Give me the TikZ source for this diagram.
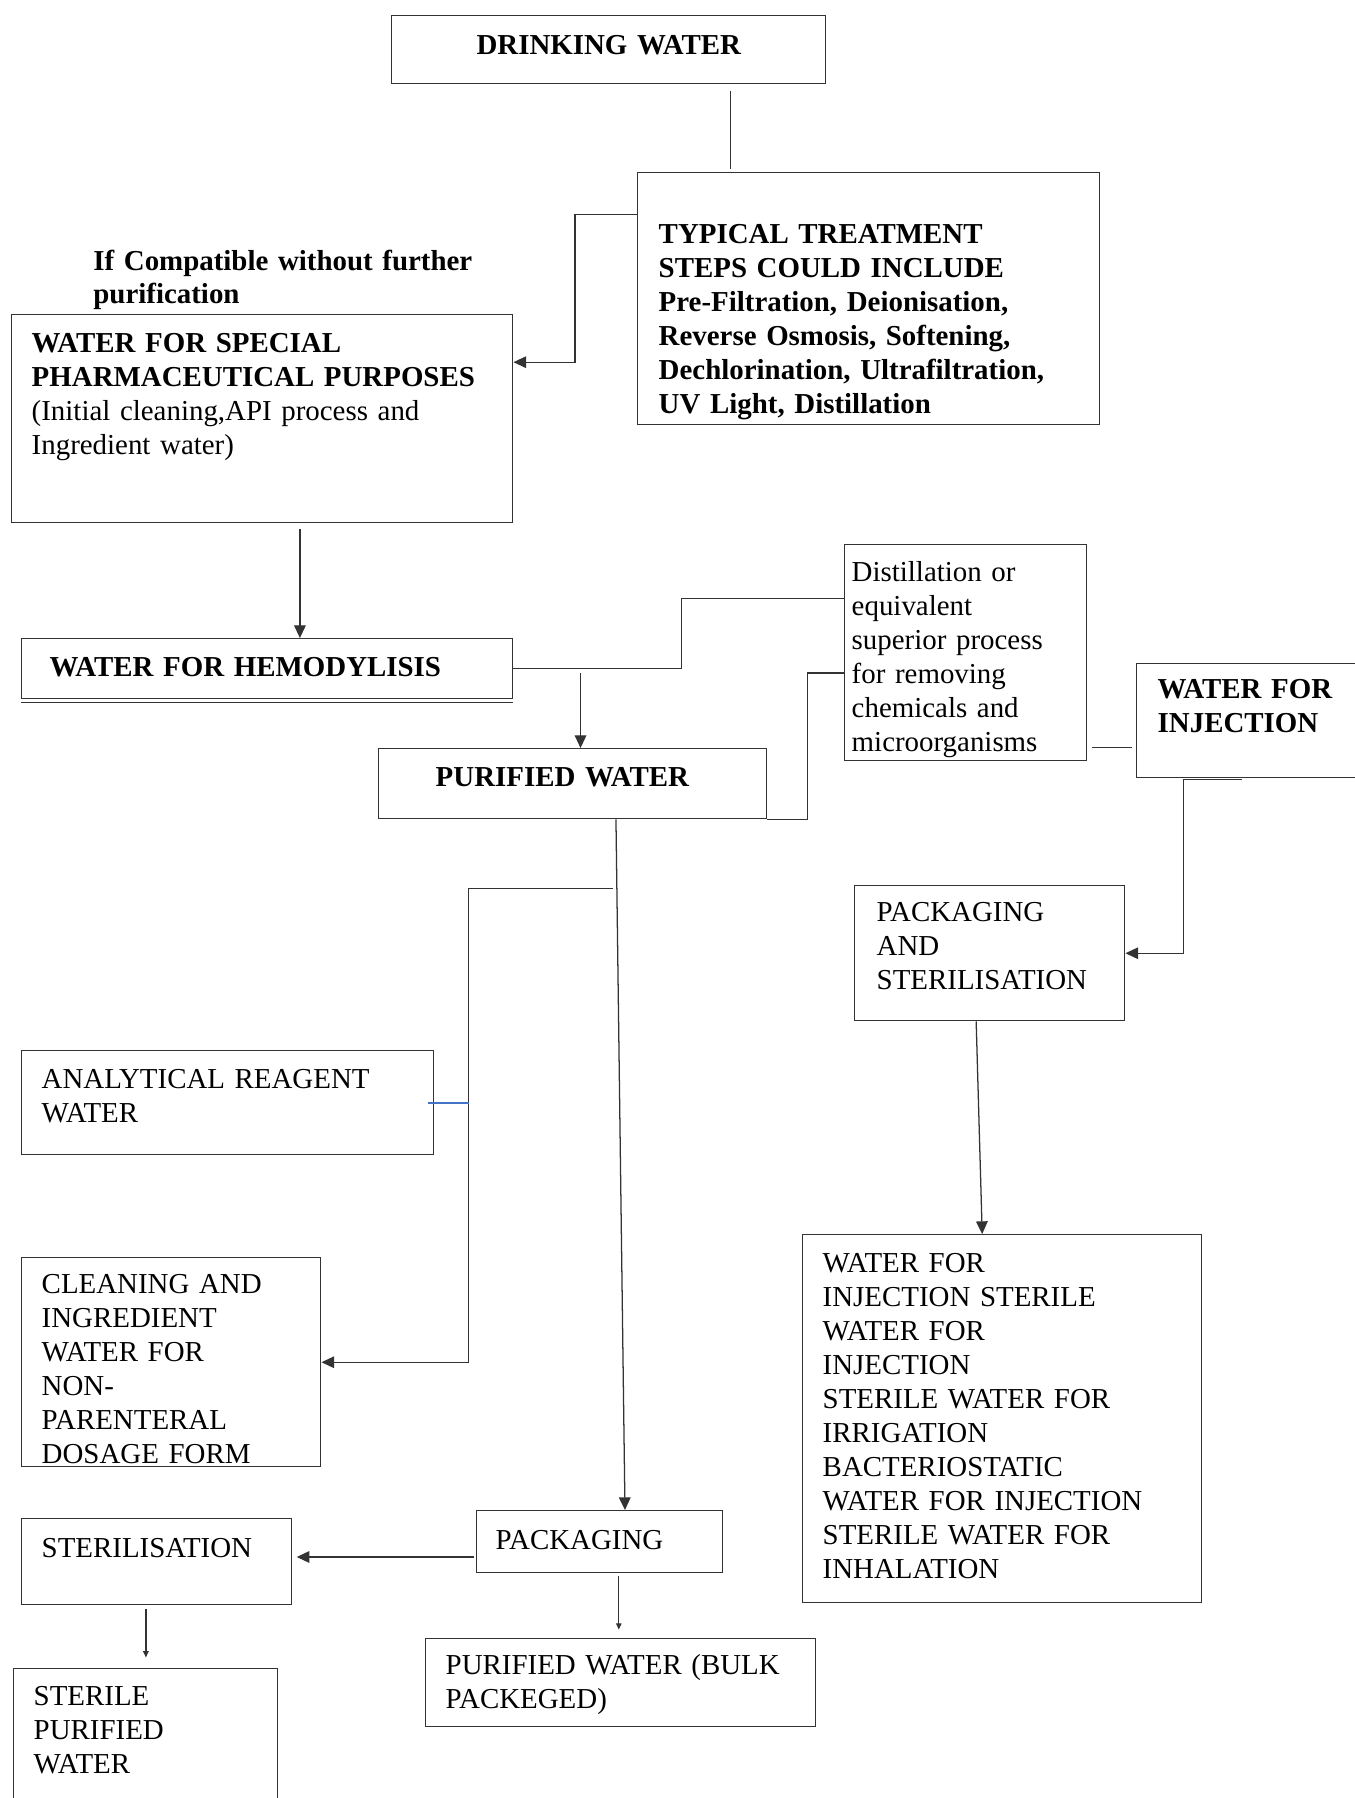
\documentclass[tikz,border=0pt]{standalone}
\usepackage{fontspec}
\setmainfont{Liberation Serif}
\usetikzlibrary{arrows.meta}
\usetikzlibrary{calc}
\usetikzlibrary{positioning}
\definecolor{wordblue}{HTML}{4472C4}
\newcommand{\pxu}{0.474pt}

\begin{document}
\begin{tikzpicture}[x=\pxu, y=-\pxu,
		box/.style n args={4}{draw=black!80, line width=0.7pt, rectangle, anchor=north west, align=left,
			inner ysep=0pt, inner xsep={#3*\pxu}, text width={(#1-2*#3)*\pxu},
			text height={#4*\pxu}, text depth={(#2-#4)*\pxu},
			font=\fontsize{13.7}{16.1}\selectfont},
		strong/.style={font=\fontsize{13.7}{16.1}\selectfont\bfseries},
		note/.style={anchor=base west, align=left, inner sep=0pt, text width={400*\pxu},
			font=\fontsize{13.7}{16.1}\selectfont\bfseries},
		link/.style={draw=black!80, line width=0.6pt},
		arr/.style={link, -{Triangle[length=6pt,width=5.5pt]}},
		tip/.style={link, -{Triangle[length=3pt,width=2.6pt]}},
		blueline/.style={draw=wordblue, line width=0.9pt}]
		\useasboundingbox (0,0) rectangle (1355,1798);
		% boxes
		\node (dw) [box={434}{68}{0}{39}, strong, align=center] at (391,15) {DRINKING WATER};
		\node (tr) [box={462}{252}{21}{71}, strong] at (637,172) {TYPICAL TREATMENT\\ STEPS COULD INCLUDE\\ Pre-Filtration, Deionisation,\\ Reverse Osmosis, Softening,\\ Dechlorination, Ultrafiltration,\\ UV Light, Distillation};
		\node (cond) [note] at (93,270) {If Compatible without further\\ purification};
		\node (sp) [box={501}{208}{20}{38}] at (11,314) {\textbf{WATER FOR SPECIAL}\\ \textbf{PHARMACEUTICAL PURPOSES}\\ (Initial cleaning,API process and\\ Ingredient water)};
		\node (hd) [box={491}{60}{28}{38}, strong] at (21,638) {WATER FOR HEMODYLISIS};
		\node (dist) [box={242}{216}{7}{37}] at (844,544) {Distillation or\\ equivalent\\ superior process\\ for removing\\ chemicals and\\ microorganisms};
		\node (pw) [box={388}{70}{57}{38}, strong] at (378,748) {PURIFIED WATER};
		\node (wfi) [box={240}{114}{21}{35}, strong] at (1136,663) {WATER FOR\\ INJECTION};
		\node (ps) [box={270}{135}{22}{36}] at (854,885) {PACKAGING\\ AND\\ STERILISATION};
		\node (list) [box={399}{368}{20}{38}] at (802,1234) {WATER FOR\\ INJECTION STERILE\\ WATER FOR\\ INJECTION\\ STERILE WATER FOR\\ IRRIGATION\\ BACTERIOSTATIC\\ WATER FOR INJECTION\\ STERILE WATER FOR\\ INHALATION};
		\node (ar) [box={412}{104}{20}{38}] at (21,1050) {ANALYTICAL REAGENT\\ WATER};
		\node (cl) [box={299}{209}{20}{36}] at (21,1257) {CLEANING AND\\ INGREDIENT\\ WATER FOR\\ NON-\\ PARENTERAL\\ DOSAGE FORM};
		\node (pk) [box={246}{62}{19}{39}] at (476,1510) {PACKAGING};
		\node (st) [box={270}{86}{20}{39}] at (21,1518) {STERILISATION};
		\node (spw) [box={264}{145}{20}{37}] at (13,1668) {STERILE\\ PURIFIED\\ WATER};
		\node (bulk) [box={390}{88}{20}{36}] at (425,1638) {PURIFIED WATER (BULK\\ PACKEGED)};
		\draw[black!80, line width=0.7pt] ([yshift=-1.5pt]hd.south west) -- ([yshift=-1.5pt]hd.south east);
		% connectors
		\coordinate (dwout) at ($(dw.south west)!.78!(dw.south east)$);
		\draw[link, shorten <=3pt, shorten >=1.5pt] (dwout) -- (dwout |- tr.north);
		\draw[arr] ($(tr.north west)!.167!(tr.south west)$) -- ++(-62,0) |- ($(sp.north east)!.23!(sp.south east)$);
		\coordinate (spout) at ($(sp.south west)!.575!(sp.south east)$);
		\draw[arr, shorten <=2.5pt] (spout) -- (spout |- hd.north);
		\draw[link] (hd.east) -- ++(168,0) |- ($(dist.north west)!.25!(dist.south west)$);
		\coordinate (pwin) at ($(pw.north west)!.52!(pw.north east)$);
		\draw[arr] ([yshift=-2pt]pwin |- hd.east) -- (pwin);
		\draw[link] (pw.south east) -- ++(40,0) |- ($(dist.north west)!.593!(dist.south west)$);
		\coordinate (distout) at ($(dist.north east)!.935!(dist.south east)$);
		\draw[link, shorten <=2pt, shorten >=2pt] (distout) -- (distout -| wfi.west);
		\coordinate (wfiout) at ($(wfi.south west)!.44!(wfi.south east)$);
		\draw[arr] ([yshift=-0.5pt]wfiout) -- ++(-59,0) |- (ps.east);
		\draw[arr] ($(ps.south west)!.45!(ps.south east)$) -- ($(list.north west)!.45!(list.north east)$);
		\draw[arr] ($(pw.south west)!.611!(pw.south east)$) -- coordinate[pos=.1] (tap) ($(pk.north west)!.602!(pk.north east)$);
		\draw[arr] ([xshift=-2pt]tap) -- ++(-144,0) coordinate (bend) |- (cl.east);
		\draw[blueline] ([xshift=-3pt]ar.east) -- (ar.east -| bend);
		\coordinate (pkout) at ($(pk.north west)!.74!(pk.south west)$);
		\draw[arr, shorten >=2pt] ([xshift=-1pt]pkout) -- (pkout -| st.east);
		\coordinate (stout) at ($(st.south west)!.46!(st.south east)$);
		\draw[tip, shorten <=1.5pt, shorten >=5pt] (stout) -- (stout |- spw.north);
		\coordinate (pkdown) at ($(pk.south west)!.577!(pk.south east)$);
		\draw[tip, shorten <=1pt, shorten >=4pt] (pkdown) -- (pkdown |- bulk.north);
	\end{tikzpicture}
\end{document}
